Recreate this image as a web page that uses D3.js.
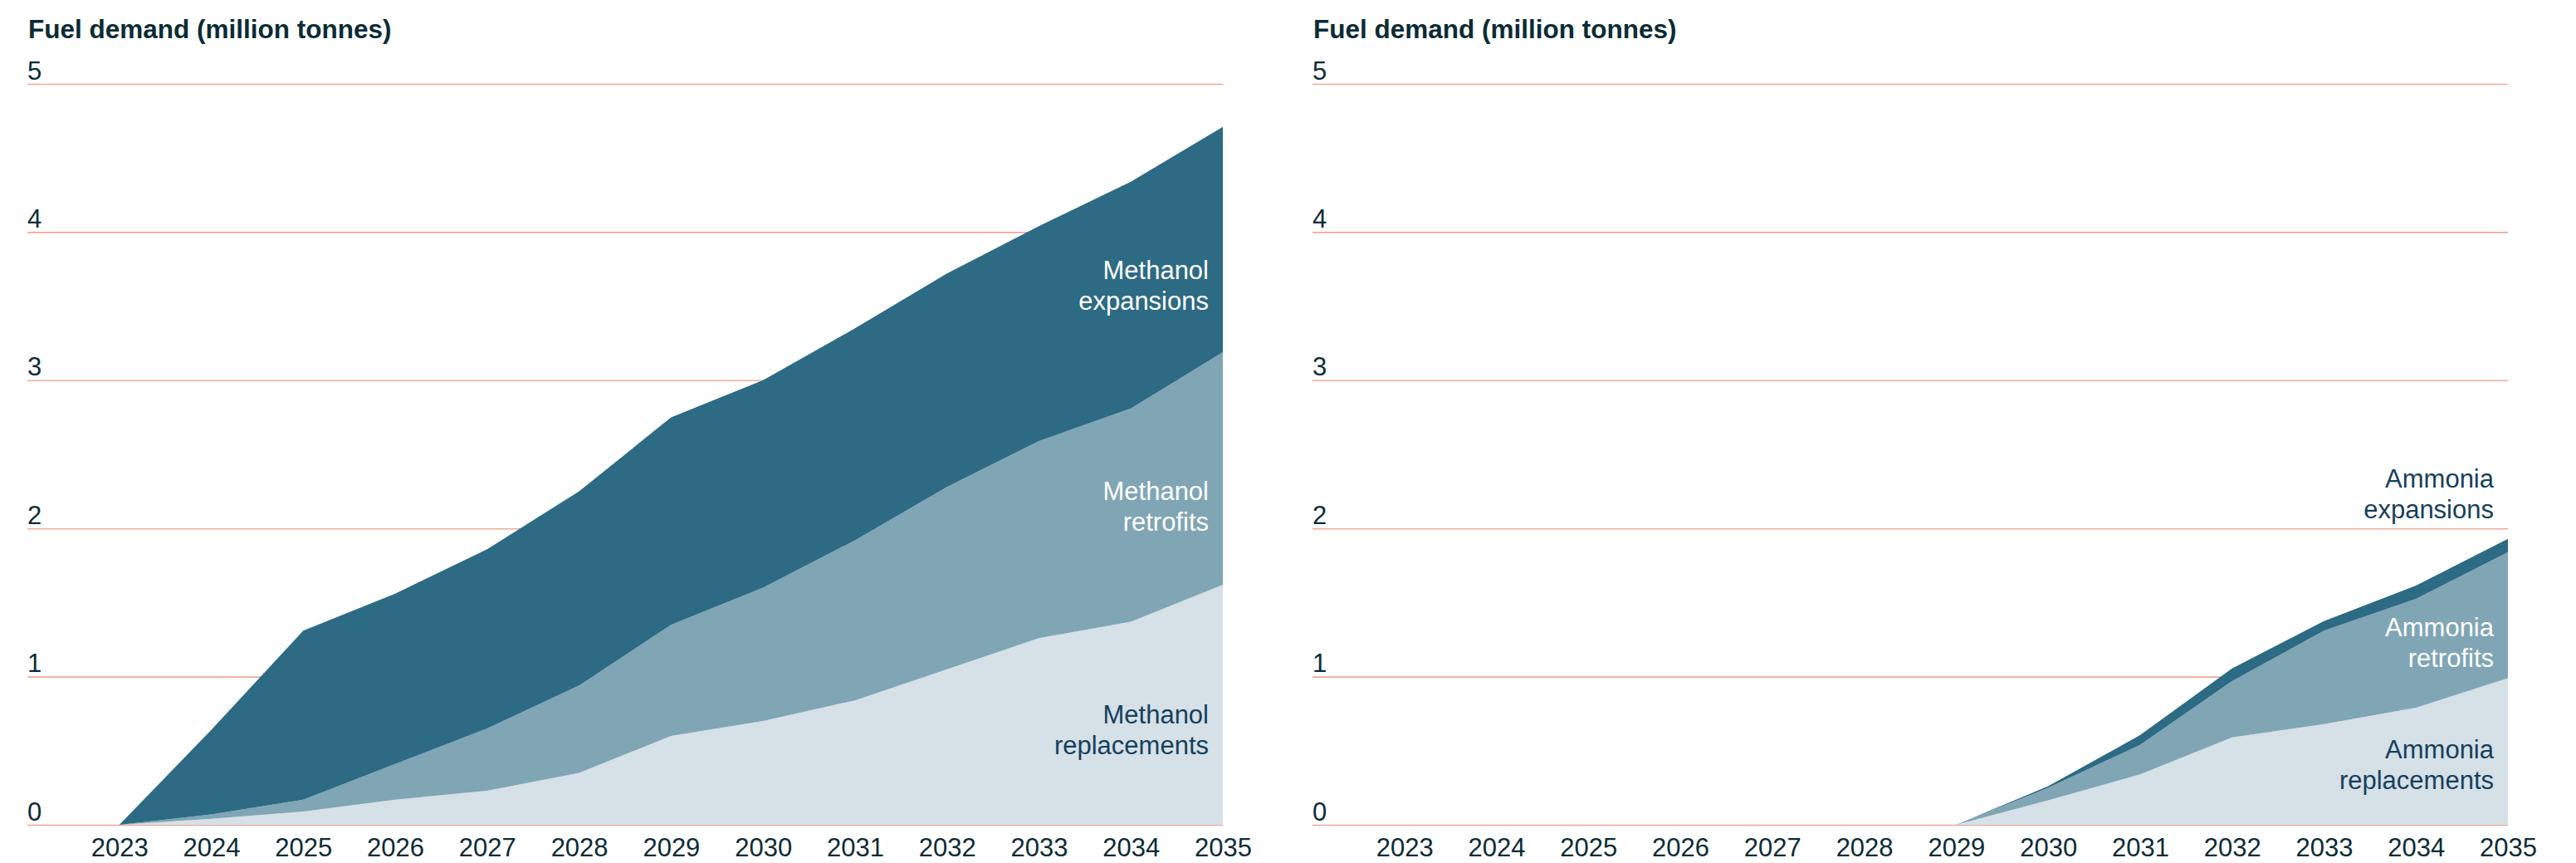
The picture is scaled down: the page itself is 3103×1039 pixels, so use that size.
<!DOCTYPE html>
<html>
<head>
<meta charset="utf-8">
<script src="https://cdn.jsdelivr.net/npm/d3@7"></script>
<style>
  body { margin: 0; background: #fff; }
  svg { display: block; font-family: "Liberation Sans", Arial, sans-serif; }
</style>
</head>
<body>
<div id="chart-area"></div>
<script>
// Data (million tonnes, per layer)
var years = [2023, 2024, 2025, 2026, 2027, 2028, 2029, 2030, 2031, 2032, 2033, 2034, 2035];
var yTicks = [0, 1, 2, 3, 4, 5];

var methanolReplacements = [0, 0.04, 0.09, 0.17, 0.23, 0.35, 0.60, 0.70, 0.84, 1.05, 1.26, 1.37, 1.62];
var methanolRetrofits    = [0, 0.03, 0.08, 0.24, 0.42, 0.59, 0.75, 0.90, 1.08, 1.23, 1.33, 1.44, 1.57];
var methanolExpansions   = [0, 0.57, 1.14, 1.15, 1.21, 1.31, 1.40, 1.40, 1.43, 1.44, 1.45, 1.53, 1.52];

var ammoniaReplacements = [0, 0, 0, 0, 0, 0, 0, 0.165, 0.34, 0.59, 0.68, 0.79, 0.99];
var ammoniaRetrofits    = [0, 0, 0, 0, 0, 0, 0, 0.085, 0.20, 0.38, 0.63, 0.735, 0.85];
var ammoniaExpansions   = [0, 0, 0, 0, 0, 0, 0, 0.01, 0.065, 0.085, 0.065, 0.09, 0.09];

var titleText = "Fuel demand (million tonnes)";

var colors = { replacements: "#d5e0e7", retrofits: "#80a5b5", expansions: "#2d6a83" };
var textColor = "#0b2c35";
var labelDark = "#163f5c";

var W = 3103, H = 1039;
var svg = d3.select("#chart-area").append("svg")
  .attr("width", W)
  .attr("height", H);

function drawPanel(left, fuel, repl, retro, exp, labels) {
  var width = 1440;
  var top = 101, bottom = 993;

  var g = svg.append("g")
    .attr("transform", "translate(" + left + ", 0)");

  var x = d3.scaleLinear().domain([2022, 2035]).range([0, width]);
  var y = d3.scaleLinear().domain([0, 5]).range([bottom, top]);

  // title
  g.append("text")
    .attr("x", 1)
    .attr("y", 46)
    .attr("font-size", "31.5px")
    .attr("font-weight", "bold")
    .attr("fill", textColor)
    .text(titleText);

  // gridlines + y labels
  var yAxis = g.append("g")
    .call(d3.axisRight(y).tickValues(yTicks).tickSize(width).tickFormat(d3.format("d")));
  yAxis.select(".domain").remove();
  yAxis.selectAll("line")
    .attr("stroke", "#efa99a")
    .attr("stroke-width", 1.6);
  yAxis.selectAll("text")
    .attr("x", 0)
    .attr("dy", "-6px")
    .attr("text-anchor", "start")
    .attr("font-size", "31px")
    .attr("font-family", "inherit")
    .attr("fill", textColor);

  // stacked areas
  var rows = years.map(function (yr, i) {
    return { year: yr, replacements: repl[i], retrofits: retro[i], expansions: exp[i] };
  });
  var series = d3.stack().keys(["replacements", "retrofits", "expansions"])(rows);

  var area = d3.area()
    .x(function (d) { return x(d.data.year); })
    .y0(function (d) { return y(d[0]); })
    .y1(function (d) { return y(d[1]); });

  g.selectAll(".layer")
    .data(series)
    .enter()
    .append("path")
      .attr("class", "layer")
      .attr("fill", function (s) { return colors[s.key]; })
      .attr("d", area);

  // x axis
  var xAxis = g.append("g")
    .attr("transform", "translate(0, " + bottom + ")")
    .call(d3.axisBottom(x).tickValues(years).tickSize(0).tickFormat(d3.format("d")));
  xAxis.select(".domain").remove();
  xAxis.selectAll("text")
    .attr("y", 38)
    .attr("dy", 0)
    .attr("font-size", "31px")
    .attr("font-family", "inherit")
    .attr("fill", textColor);

  // series labels
  labels.forEach(function (lab) {
    var t = g.append("text")
      .attr("x", x(2035) - 17)
      .attr("y", y(lab.at))
      .attr("text-anchor", "end")
      .attr("font-size", "31px")
      .attr("fill", lab.color);
    t.append("tspan").attr("x", x(2035) - 17).text(fuel);
    t.append("tspan").attr("x", x(2035) - 17).attr("dy", 37).text(lab.text);
  });
}

drawPanel(33, "Methanol", methanolReplacements, methanolRetrofits, methanolExpansions, [
  { text: "expansions", at: 3.68, color: "#ffffff" },
  { text: "retrofits", at: 2.19, color: "#ffffff" },
  { text: "replacements", at: 0.685, color: labelDark }
]);

drawPanel(1581, "Ammonia", ammoniaReplacements, ammoniaRetrofits, ammoniaExpansions, [
  { text: "expansions", at: 2.276, color: labelDark },
  { text: "retrofits", at: 1.272, color: "#ffffff" },
  { text: "replacements", at: 0.448, color: labelDark }
]);
</script>
</body>
</html>
